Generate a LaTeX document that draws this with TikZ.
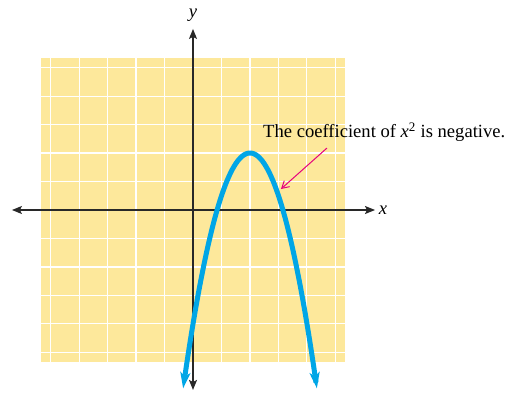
\documentclass[tikz,border=0pt]{standalone}
\usepackage{fontspec}
\setmainfont{Liberation Serif}
\usetikzlibrary{arrows.meta}
\definecolor{gridbg}{RGB}{253,232,155}
\definecolor{curvecol}{RGB}{0,166,230}
\definecolor{axiscol}{RGB}{40,40,40}
\definecolor{notecol}{RGB}{230,0,126}
\tikzset{
  axisline/.style={draw=axiscol, line width=1.3pt, -{Stealth[length=10pt,width=8pt,inset=2pt]}},
  curveline/.style={draw=curvecol, line width=5pt, {Stealth[length=16pt,width=10pt,inset=4pt]}-{Stealth[length=16pt,width=10pt,inset=4pt]}},
  notearrow/.style={draw=notecol, line width=1pt, -{Straight Barb[length=7pt,width=8pt]}},
  lbl/.style={inner sep=0pt, font=\fontsize{18.6pt}{20pt}\selectfont}
}
\begin{document}
\begin{tikzpicture}[x=19pt,y=19pt]
\useasboundingbox (-193pt,-184pt) rectangle (313pt,210pt);
% grid
\fill[gridbg] (-8,-8) rectangle (8,8);
\draw[white, line width=1.3pt] (-8,-8) grid (8,8);
% axes
\coordinate (xl) at (-9.53,0);
\coordinate (xr) at (9.58,0);
\coordinate (yb) at (0,-9.47);
\coordinate (yt) at (0,9.53);
\draw[axisline] (0,0) -- (xr);
\draw[axisline] (0,0) -- (xl);
\draw[axisline] (0,0) -- (yt);
\draw[axisline] (0,0) -- (yb);
\node[lbl] (xlab) at (10.0,0) {\textit{x}};
\node[lbl] (ylab) at (0,10.26) {\textit{y}};
% parabola
\draw[curveline] plot[domain=-0.52:6.52, samples=80, smooth] (\x,{-(\x-3)*(\x-3)+3});
% note
\node[lbl, anchor=base west] (note) at (3.684,3.805) {The coefficient of \textit{x}\textsuperscript{2} is negative.};
\coordinate (ns) at (7.05,3.26);
\coordinate (ne) at (4.63,1.105);
\draw[notearrow] (ns) -- (ne);
\end{tikzpicture}
\end{document}
